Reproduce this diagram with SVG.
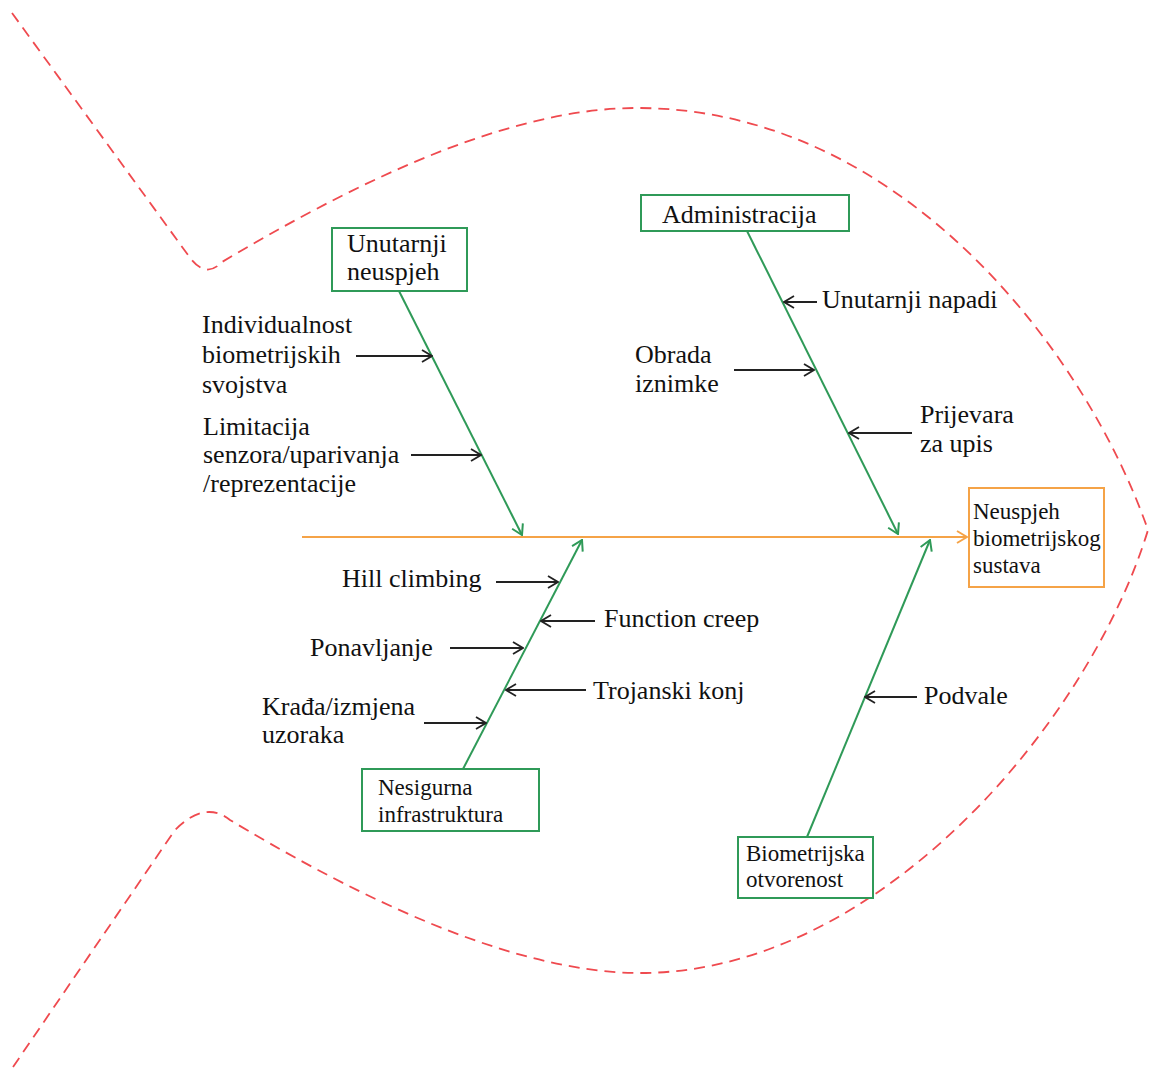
<svg xmlns="http://www.w3.org/2000/svg" width="1149" height="1068" viewBox="0 0 1149 1068">
<style>
.fish{fill:none;stroke:#ef4a4f;stroke-width:1.8;stroke-dasharray:11 7}
.gbox{fill:#fff;stroke:#2f9a58;stroke-width:2}
.obox{fill:#fff;stroke:#f5a347;stroke-width:2}
.bone{stroke:#2f9a58;stroke-width:2;fill:none;marker-end:url(#ag)}
.spine{stroke:#f5a347;stroke-width:2;fill:none;marker-end:url(#ao)}
.cause{stroke:#222;stroke-width:1.8;fill:none;marker-end:url(#ab)}
.t26{font-size:26px}
.t23{font-size:23px}
</style>
<defs>
<marker id="ab" markerUnits="userSpaceOnUse" viewBox="0 0 12 14" refX="11" refY="7" markerWidth="12" markerHeight="14" orient="auto"><path d="M1,1 L11,7 L1,13" fill="none" stroke="#222" stroke-width="1.8"/></marker>
<marker id="ag" markerUnits="userSpaceOnUse" viewBox="0 0 12 14" refX="11" refY="7" markerWidth="12" markerHeight="14" orient="auto"><path d="M1,1 L11,7 L1,13" fill="none" stroke="#2f9a58" stroke-width="2"/></marker>
<marker id="ao" markerUnits="userSpaceOnUse" viewBox="0 0 12 14" refX="11" refY="7" markerWidth="12" markerHeight="14" orient="auto"><path d="M1,1 L11,7 L1,13" fill="none" stroke="#f5a347" stroke-width="2"/></marker>
</defs>
<path class="fish" d="M12,13 L188,255 Q205,280 222,262 C340,192 500,108 637,108 C900,108 1085,350 1148,530 C1090,720 880,973 640,973 C500,973 330,880 230,820 Q205,800 175,830 L13,1067"/>
<g id="connectors">
<line class="spine" x1="302" y1="537" x2="967" y2="537"/>
<line class="bone" x1="399" y1="291" x2="522" y2="535"/>
<line class="bone" x1="747" y1="231" x2="898" y2="534"/>
<line class="bone" x1="463" y1="769" x2="582" y2="540"/>
<line class="bone" x1="807" y1="837" x2="930" y2="540"/>
<line class="cause" x1="356" y1="356" x2="432" y2="356"/>
<line class="cause" x1="411" y1="455" x2="481" y2="455"/>
<line class="cause" x1="817" y1="302" x2="784" y2="302"/>
<line class="cause" x1="734" y1="370" x2="814" y2="370"/>
<line class="cause" x1="912" y1="433" x2="849" y2="433"/>
<line class="cause" x1="496" y1="582" x2="558" y2="582"/>
<line class="cause" x1="595" y1="621" x2="541" y2="621"/>
<line class="cause" x1="450" y1="648" x2="523" y2="648"/>
<line class="cause" x1="586" y1="690" x2="506" y2="690"/>
<line class="cause" x1="424" y1="723" x2="486" y2="723"/>
<line class="cause" x1="917" y1="697" x2="865" y2="697"/>
</g>
<g font-family="Liberation Serif, DejaVu Serif, serif" fill="#111">
<g id="head">
<rect class="obox" x="969" y="488" width="135" height="99"/>
<text class="t23" x="973" y="519">Neuspjeh</text>
<text class="t23" x="973" y="546">biometrijskog</text>
<text class="t23" x="973" y="573">sustava</text>
</g>
<g id="cat-administracija">
<rect class="gbox" x="641" y="195" width="208" height="36"/>
<text class="t26" x="662" y="223">Administracija</text>
</g>
<g id="cat-unutarnji">
<rect class="gbox" x="332" y="228" width="135" height="63"/>
<text class="t26" x="347" y="252">Unutarnji</text>
<text class="t26" x="347" y="280">neuspjeh</text>
</g>
<g id="cat-nesigurna">
<rect class="gbox" x="362" y="769" width="177" height="62"/>
<text class="t23" x="378" y="795">Nesigurna</text>
<text class="t23" x="378" y="822">infrastruktura</text>
</g>
<g id="cat-biometrijska">
<rect class="gbox" x="738" y="837" width="135" height="61"/>
<text class="t23" x="746" y="861">Biometrijska</text>
<text class="t23" x="746" y="887">otvorenost</text>
</g>
<g id="c-individualnost">
<text class="t26" x="202" y="333">Individualnost</text>
<text class="t26" x="202" y="363">biometrijskih</text>
<text class="t26" x="202" y="393">svojstva</text>
</g>
<g id="c-limitacija">
<text class="t26" x="203" y="435">Limitacija</text>
<text class="t26" x="203" y="463">senzora/uparivanja</text>
<text class="t26" x="203" y="492">/reprezentacije</text>
</g>
<g id="c-unutarnji-napadi"><text class="t26" x="822" y="308">Unutarnji napadi</text></g>
<g id="c-obrada">
<text class="t26" x="635" y="363">Obrada</text>
<text class="t26" x="635" y="392">iznimke</text>
</g>
<g id="c-prijevara">
<text class="t26" x="920" y="423">Prijevara</text>
<text class="t26" x="920" y="452">za upis</text>
</g>
<g id="c-hill"><text class="t26" x="342" y="587">Hill climbing</text></g>
<g id="c-function"><text class="t26" x="604" y="627">Function creep</text></g>
<g id="c-ponavljanje"><text class="t26" x="310" y="656">Ponavljanje</text></g>
<g id="c-trojanski"><text class="t26" x="593" y="699">Trojanski konj</text></g>
<g id="c-krada">
<text class="t26" x="262" y="715">Krađa/izmjena</text>
<text class="t26" x="262" y="743">uzoraka</text>
</g>
<g id="c-podvale"><text class="t26" x="924" y="704">Podvale</text></g>
</g>
</svg>
